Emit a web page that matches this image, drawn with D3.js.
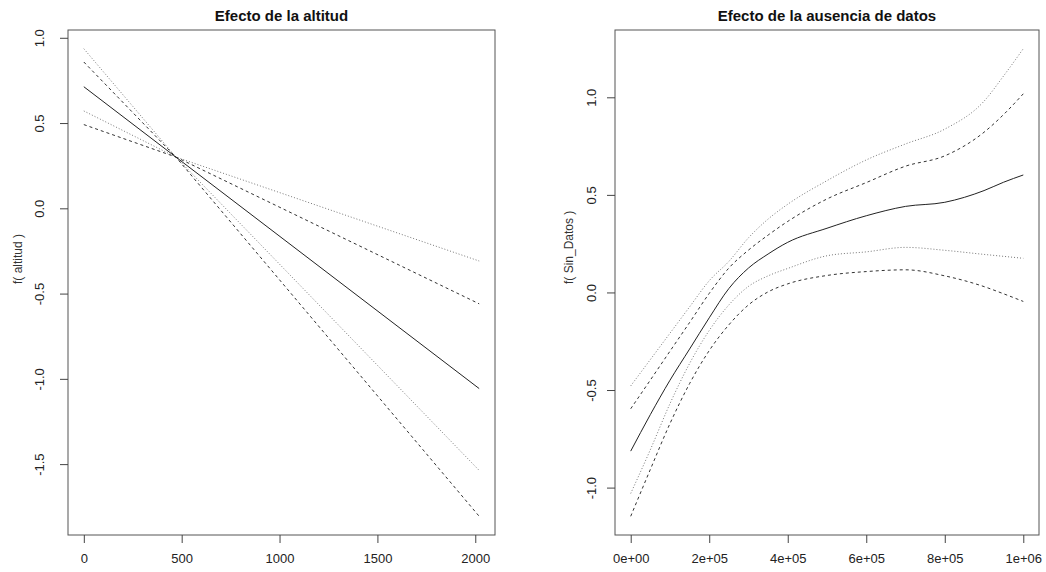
<!DOCTYPE html>
<html>
<head>
<meta charset="utf-8">
<script src="https://cdn.jsdelivr.net/npm/d3@7"></script>
<style>
  body { margin: 0; background: #fff; }
  svg { display: block; font-family: "Liberation Sans", Arial, sans-serif; }
</style>
</head>
<body>
<div id="chart"></div>
<script>
// ---- left panel: altitud (bands pinch onto the fit near 470)
const altX = [0, 470, 2020]
const altFit = [0.713, 0.301, -1.057]
const altDashA = [0.858, 0.301, -0.560]
const altDashB = [0.491, 0.301, -1.806]
const altDotA = [0.936, 0.301, -0.309]
const altDotB = [0.571, 0.301, -1.537]
const altXTicks = [0, 500, 1000, 1500, 2000]
const altYTicks = [-1.5, -1.0, -0.5, 0.0, 0.5, 1.0]

// ---- right panel: Sin_Datos
const sdX = [0, 5e4, 1e5, 1.5e5, 2e5, 2.5e5, 3e5, 3.5e5, 4e5, 5e5, 6e5, 7e5, 8e5, 9e5, 9.5e5, 1e6]
const sdFit = [-0.813, -0.626, -0.45, -0.29, -0.13, 0.02, 0.125, 0.197, 0.257, 0.329, 0.393, 0.441, 0.462, 0.522, 0.565, 0.602]
const sdDashUp = [-0.596, -0.449, -0.301, -0.154, -0.005, 0.125, 0.217, 0.294, 0.364, 0.479, 0.563, 0.647, 0.70, 0.821, 0.912, 1.018]
const sdDashLo = [-1.147, -0.907, -0.672, -0.467, -0.298, -0.166, -0.064, 0.003, 0.044, 0.087, 0.107, 0.116, 0.085, 0.03, -0.007, -0.046]
const sdDotUp = [-0.479, -0.344, -0.209, -0.074, 0.060, 0.159, 0.280, 0.376, 0.452, 0.573, 0.679, 0.761, 0.837, 0.98, 1.11, 1.249]
const sdDotLo = [-1.030, -0.806, -0.57, -0.364, -0.195, -0.064, 0.031, 0.085, 0.123, 0.188, 0.208, 0.231, 0.216, 0.195, 0.185, 0.175]
const sdXTicks = [0, 2e5, 4e5, 6e5, 8e5, 1e6]
const sdXLabels = ["0e+00", "2e+05", "4e+05", "6e+05", "8e+05", "1e+06"]
const sdYTicks = [-1.0, -0.5, 0.0, 0.5, 1.0]

const width = 1046
const height = 572

const svg = d3.select("#chart").append("svg")
  .attr("width", width)
  .attr("height", height)

svg.append("rect").attr("width", width).attr("height", height).attr("fill", "#fff")

// R pads the data range by 4% on each side
const pad = ext => {
  const d = (ext[1] - ext[0]) * 0.04
  return [ext[0] - d, ext[1] + d]
}

const styles = {
  solid: { stroke: "#222", dash: null },
  dash: { stroke: "#333", dash: "3,3" },
  dot: { stroke: "#777", dash: "1,2" }
}

function panel(opts) {
  const { left, right, top, bottom } = opts
  const allY = opts.series.flatMap(s => s.values)
  const x = d3.scaleLinear().domain(pad(d3.extent(opts.xs))).range([left, right])
  const y = d3.scaleLinear().domain(pad(d3.extent(allY))).range([bottom, top])

  const g = svg.append("g")

  // curves
  opts.series.forEach(s => {
    const st = styles[s.kind]
    const line = d3.line()
      .x((d, i) => x(opts.xs[i]))
      .y(d => y(d))
      .curve(opts.smooth ? d3.curveMonotoneX : d3.curveLinear)
    g.append("path")
      .datum(s.values)
      .attr("d", line)
      .attr("fill", "none")
      .attr("stroke", st.stroke)
      .attr("stroke-width", 1)
      .attr("stroke-dasharray", st.dash)
  })

  // box
  g.append("rect")
    .attr("x", left).attr("y", top)
    .attr("width", right - left).attr("height", bottom - top)
    .attr("fill", "none")
    .attr("stroke", "#555")
    .attr("stroke-width", 1)

  // x axis
  const xa = g.append("g")
    .attr("transform", `translate(0,${bottom})`)
    .call(d3.axisBottom(x)
      .tickValues(opts.xTicks)
      .tickFormat((d, i) => opts.xLabels ? opts.xLabels[i] : d3.format("d")(d))
      .tickSize(8)
      .tickSizeOuter(0))
  xa.select(".domain").remove()
  xa.selectAll(".tick line").attr("stroke", "#444")
  xa.selectAll(".tick text")
    .attr("y", 28).attr("dy", 0)
    .attr("fill", "#222")
    .style("font-size", "13px")

  // y axis, labels turned like R's las = 0
  const ya = g.append("g")
    .attr("transform", `translate(${left},0)`)
    .call(d3.axisLeft(y)
      .tickValues(opts.yTicks)
      .tickSize(8)
      .tickSizeOuter(0))
  ya.select(".domain").remove()
  ya.selectAll(".tick line").attr("stroke", "#444")
  ya.selectAll(".tick text")
    .attr("x", 0).attr("y", -opts.yLabelGap).attr("dy", 0)
    .attr("transform", "rotate(-90)")
    .attr("text-anchor", "middle")
    .attr("fill", "#222")
    .style("font-size", "13px")
    .text(d => d3.format(".1f")(d).replace("−", "-"))

  // title
  g.append("text")
    .attr("x", (left + right) / 2)
    .attr("y", 21)
    .attr("text-anchor", "middle")
    .style("font-size", "15px")
    .style("font-weight", "bold")
    .attr("fill", "#111")
    .text(opts.title)

  // y label
  g.append("text")
    .attr("transform", `translate(${opts.yTitleX},284) rotate(-90)`)
    .attr("text-anchor", "start")
    .style("font-size", "12px")
    .attr("fill", "#333")
    .text(opts.yTitle)
}

panel({
  left: 68, right: 495, top: 30, bottom: 535,
  xs: altX,
  smooth: false,
  series: [
    { values: altDotA, kind: "dot" },
    { values: altDotB, kind: "dot" },
    { values: altDashA, kind: "dash" },
    { values: altDashB, kind: "dash" },
    { values: altFit, kind: "solid" }
  ],
  xTicks: altXTicks,
  yTicks: altYTicks,
  yLabelGap: 24,
  title: "Efecto de la altitud",
  yTitle: "f( altitud )",
  yTitleX: 22
})

panel({
  left: 615, right: 1039, top: 30, bottom: 535,
  xs: sdX,
  smooth: true,
  series: [
    { values: sdDotUp, kind: "dot" },
    { values: sdDotLo, kind: "dot" },
    { values: sdDashUp, kind: "dash" },
    { values: sdDashLo, kind: "dash" },
    { values: sdFit, kind: "solid" }
  ],
  xTicks: sdXTicks,
  xLabels: sdXLabels,
  yTicks: sdYTicks,
  yLabelGap: 19,
  title: "Efecto de la ausencia de datos",
  yTitle: "f( Sin_Datos )",
  yTitleX: 573
})
</script>
</body>
</html>
